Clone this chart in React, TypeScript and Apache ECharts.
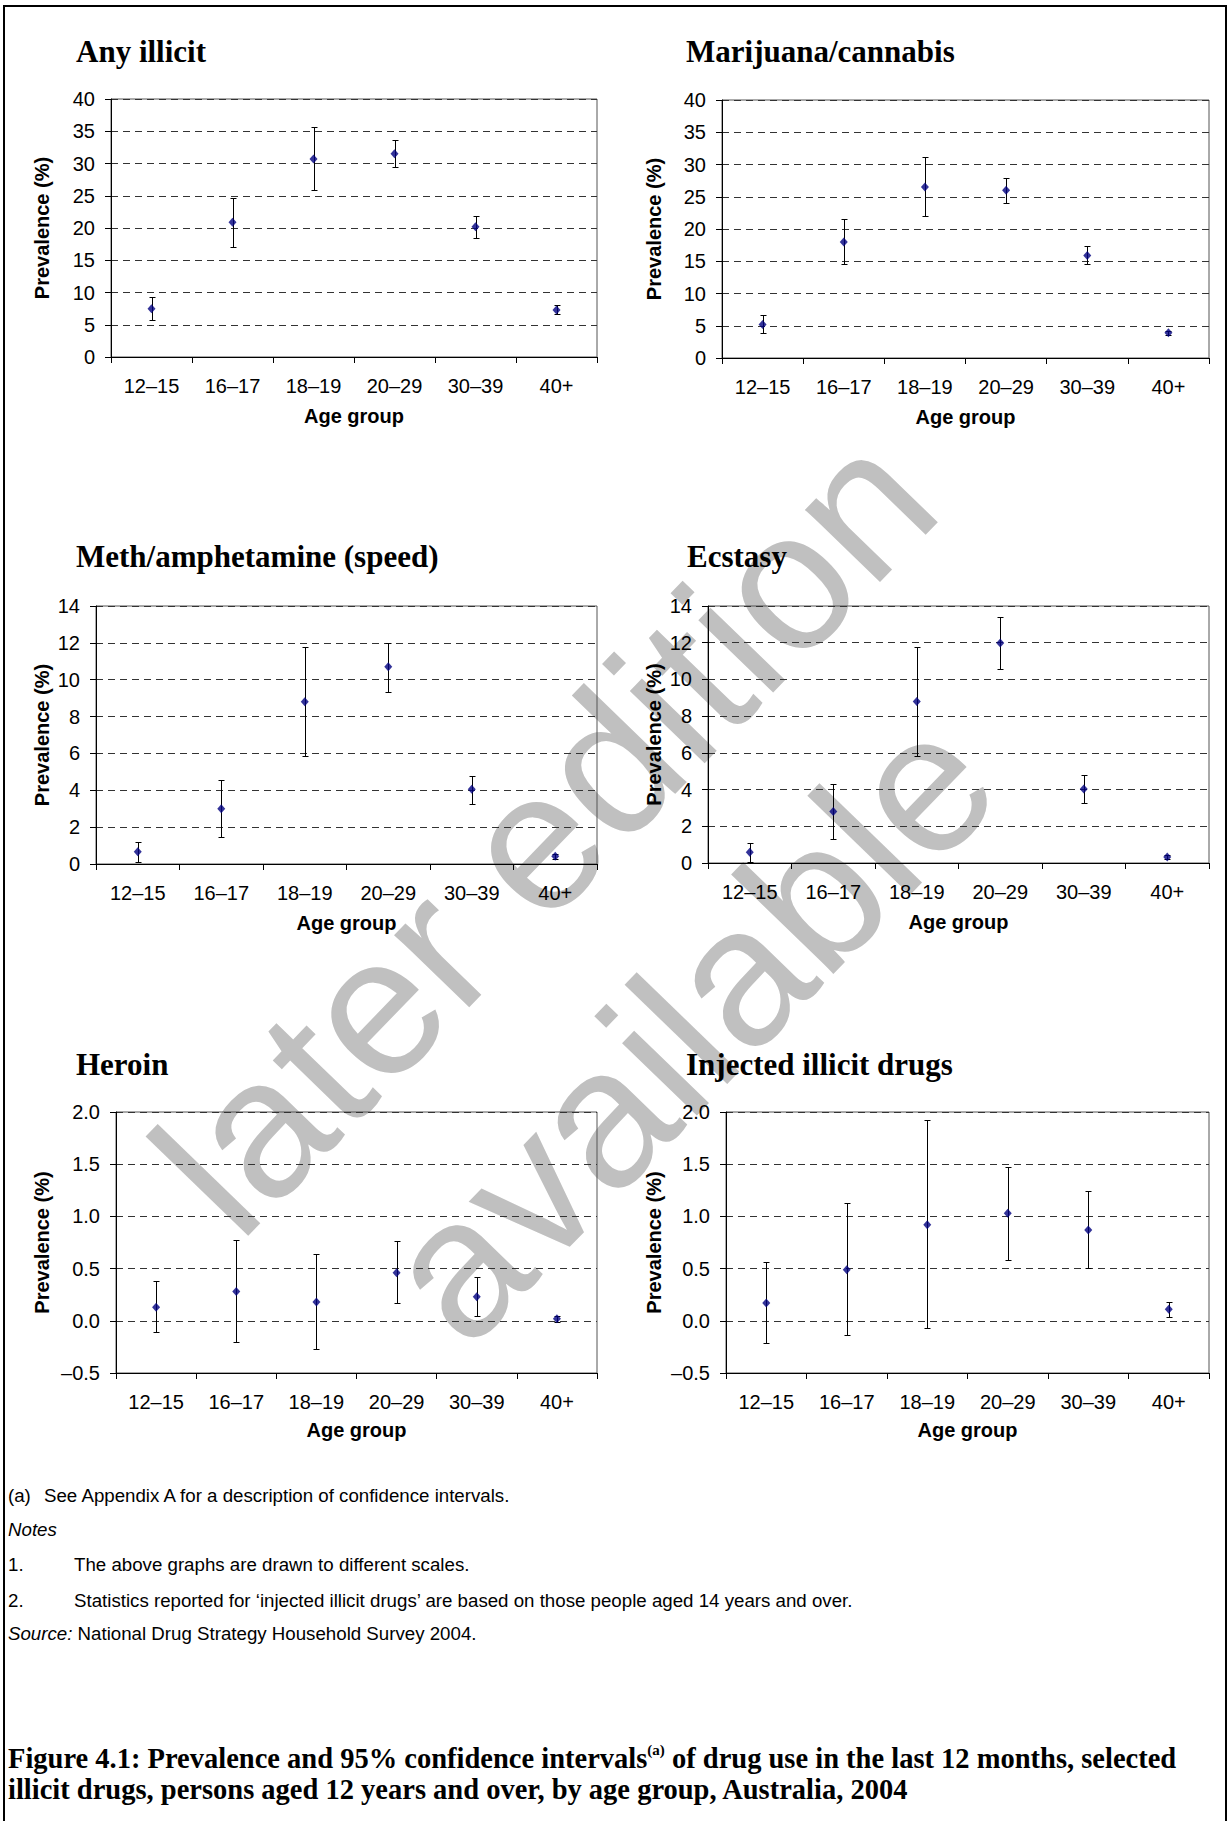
import React, { useEffect, useRef } from 'react';
import * as echarts from 'echarts';

// ---------- data ----------
const CATEGORIES = ['12–15', '16–17', '18–19', '20–29', '30–39', '40+'];

const ANY_ILLICIT_EST = [7.5, 20.9, 30.7, 31.5, 20.2, 7.3];
const ANY_ILLICIT_LOW = [5.8, 17.1, 25.9, 29.4, 18.5, 6.7];
const ANY_ILLICIT_HIGH = [9.3, 24.6, 35.6, 33.6, 21.8, 8.0];

const CANNABIS_EST = [5.2, 18.0, 26.5, 26.0, 15.9, 3.9];
const CANNABIS_LOW = [3.8, 14.6, 22.0, 24.1, 14.6, 3.6];
const CANNABIS_HIGH = [6.7, 21.5, 31.2, 27.9, 17.4, 4.2];

const METH_EST = [0.67, 3.0, 8.8, 10.7, 4.05, 0.42];
const METH_LOW = [0.11, 1.45, 5.86, 9.33, 3.25, 0.29];
const METH_HIGH = [1.21, 4.57, 11.8, 12.0, 4.79, 0.54];

const ECSTASY_EST = [0.58, 2.81, 8.8, 11.99, 4.03, 0.33];
const ECSTASY_LOW = [0.04, 1.31, 5.84, 10.55, 3.26, 0.24];
const ECSTASY_HIGH = [1.07, 4.33, 11.77, 13.4, 4.77, 0.42];

const HEROIN_EST = [0.13, 0.28, 0.18, 0.46, 0.23, 0.02];
const HEROIN_LOW = [-0.11, -0.2, -0.27, 0.17, 0.05, -0.01];
const HEROIN_HIGH = [0.38, 0.77, 0.64, 0.76, 0.42, 0.05];

const INJECTED_EST = [0.17, 0.49, 0.92, 1.03, 0.87, 0.11];
const INJECTED_LOW = [-0.21, -0.14, -0.07, 0.58, 0.51, 0.04];
const INJECTED_HIGH = [0.56, 1.13, 1.92, 1.47, 1.24, 0.18];

const SCALE_40 = { min: 0, max: 40, interval: 5, decimals: 0 };
const SCALE_14 = { min: 0, max: 14, interval: 2, decimals: 0 };
const SCALE_2 = { min: -0.5, max: 2, interval: 0.5, decimals: 1 };

const PANELS = [
  { title: 'Any illicit', est: ANY_ILLICIT_EST, low: ANY_ILLICIT_LOW, high: ANY_ILLICIT_HIGH, scale: SCALE_40 },
  { title: 'Marijuana/cannabis', est: CANNABIS_EST, low: CANNABIS_LOW, high: CANNABIS_HIGH, scale: SCALE_40 },
  { title: 'Meth/amphetamine (speed)', est: METH_EST, low: METH_LOW, high: METH_HIGH, scale: SCALE_14 },
  { title: 'Ecstasy', est: ECSTASY_EST, low: ECSTASY_LOW, high: ECSTASY_HIGH, scale: SCALE_14 },
  { title: 'Heroin', est: HEROIN_EST, low: HEROIN_LOW, high: HEROIN_HIGH, scale: SCALE_2 },
  { title: 'Injected illicit drugs', est: INJECTED_EST, low: INJECTED_LOW, high: INJECTED_HIGH, scale: SCALE_2 },
];

const Y_NAME = 'Prevalence (%)';
const X_NAME = 'Age group';

const FOOTNOTES = [
  { label: '(a)', text: 'See Appendix A for a description of confidence intervals.' },
  { label: '{i|Notes}', text: '' },
  { label: '1.', text: 'The above graphs are drawn to different scales.' },
  { label: '2.', text: 'Statistics reported for ‘injected illicit drugs’ are based on those people aged 14 years and over.' },
  { label: '{i|Source:} National Drug Strategy Household Survey 2004.', text: '' },
];

const CAPTION_1A = 'Figure 4.1: Prevalence and 95% confidence intervals';
const CAPTION_SUP = '(a)';
const CAPTION_1B = ' of drug use in the last 12 months, selected';
const CAPTION_2 = 'illicit drugs, persons aged 12 years and over, by age group, Australia, 2004';

const WATERMARK_1 = 'later edition';
const WATERMARK_2 = 'available';

// ---------- layout ----------
const LAYOUT = [
  { left: 111, top: 99, width: 486, height: 258, yGap: 59, xGap: 49, titleX: 76, titleY: 51.5 },
  { left: 722, top: 100, width: 487, height: 258, yGap: 58, xGap: 49, titleX: 686, titleY: 51.5 },
  { left: 96, top: 606, width: 501, height: 258, yGap: 44, xGap: 49, titleX: 76, titleY: 556.5 },
  { left: 708, top: 606, width: 501, height: 257, yGap: 44, xGap: 49, titleX: 687, titleY: 556.5 },
  { left: 116, top: 1112, width: 481, height: 261, yGap: 64, xGap: 47, titleX: 76, titleY: 1064.5 },
  { left: 726, top: 1112, width: 483, height: 261, yGap: 62, xGap: 47, titleX: 686, titleY: 1064.5 },
];

const SANS = '"Liberation Sans", Arial, Helvetica, sans-serif';
const SERIF = '"Liberation Serif", "Times New Roman", serif';
const FOOT_Y = [1495, 1529, 1564, 1600, 1633];
const FOOT_SIZE = 18.7;

function fmt(decimals: number) {
  return (v: number) => {
    const s = decimals ? Math.abs(v).toFixed(decimals) : String(Math.abs(v));
    return v < 0 ? '–' + s : s;
  };
}

function buildOption() {
  const grid: any[] = [];
  const xAxis: any[] = [];
  const yAxis: any[] = [];
  const series: any[] = [];
  const elements: any[] = [];

  PANELS.forEach((p, i) => {
    const L = LAYOUT[i];
    grid.push({
      left: L.left, top: L.top, width: L.width, height: L.height,
      show: true, borderColor: '#555', borderWidth: 1, backgroundColor: 'transparent',
    });
    xAxis.push({
      type: 'category', gridIndex: i, data: CATEGORIES, boundaryGap: true,
      axisLine: { show: true, onZero: false, lineStyle: { color: '#000', width: 1 } },
      axisTick: { show: true, length: 6, lineStyle: { color: '#000' } },
      axisLabel: { color: '#000', fontSize: 20, fontFamily: SANS, margin: 19 },
      splitLine: { show: false },
      name: X_NAME, nameLocation: 'middle', nameGap: L.xGap,
      nameTextStyle: { color: '#000', fontSize: 20, fontWeight: 'bold', fontFamily: SANS },
    });
    yAxis.push({
      type: 'value', gridIndex: i,
      min: p.scale.min, max: p.scale.max, interval: p.scale.interval,
      axisLine: { show: true, lineStyle: { color: '#000', width: 1 } },
      axisTick: { show: true, length: 6, lineStyle: { color: '#000' } },
      axisLabel: { color: '#000', fontSize: 20, fontFamily: SANS, margin: 16, formatter: fmt(p.scale.decimals) },
      splitLine: { show: true, lineStyle: { color: '#333', width: 1, type: [7, 5] } },
      name: Y_NAME, nameLocation: 'middle', nameGap: L.yGap, nameRotate: 90,
      nameTextStyle: { color: '#000', fontSize: 20, fontWeight: 'bold', fontFamily: SANS },
    });
    series.push({
      type: 'custom', xAxisIndex: i, yAxisIndex: i, z: 3,
      data: CATEGORIES.map((_, j) => [j, p.low[j], p.high[j]]),
      encode: { x: 0, y: [1, 2] },
      renderItem: (params: any, api: any) => {
        const xv = api.value(0);
        const lo = api.coord([xv, api.value(1)]);
        const hi = api.coord([xv, api.value(2)]);
        const cx = Math.round(lo[0]) + 0.5;
        const y1 = Math.round(hi[1]) + 0.5;
        const y2 = Math.round(lo[1]) + 0.5;
        const w = 3;
        const style = { stroke: '#000', lineWidth: 1 };
        return {
          type: 'group',
          children: [
            { type: 'line', shape: { x1: cx, y1, x2: cx, y2 }, style },
            { type: 'line', shape: { x1: cx - w, y1, x2: cx + w, y2: y1 }, style },
            { type: 'line', shape: { x1: cx - w, y1: y2, x2: cx + w, y2 }, style },
          ],
        };
      },
    });
    series.push({
      type: 'scatter', xAxisIndex: i, yAxisIndex: i, z: 4,
      symbol: 'diamond', symbolSize: [8, 9],
      itemStyle: { color: '#00007f' },
      data: p.est,
    });
    elements.push({
      type: 'text', x: L.titleX, y: L.titleY,
      style: {
        text: p.title, fill: '#000', font: 'bold 31px ' + SERIF,
        textAlign: 'left', textVerticalAlign: 'middle', align: 'left', verticalAlign: 'middle',
      },
    });
  });

  // watermark
  const wmFont = '197px ' + SANS;
  const rot = (46 * Math.PI) / 180;
  elements.push({
    type: 'text', x: 190, y: 1198, rotation: rot, z: -1, silent: true,
    style: { text: WATERMARK_1, fill: '#c0c0c0', font: wmFont, textAlign: 'left', textVerticalAlign: 'middle', align: 'left', verticalAlign: 'middle' },
  });
  elements.push({
    type: 'text', x: 418, y: 1306, rotation: rot, z: -1, silent: true,
    style: { text: WATERMARK_2, fill: '#c0c0c0', font: wmFont, textAlign: 'left', textVerticalAlign: 'middle', align: 'left', verticalAlign: 'middle' },
  });

  // footnotes
  const footRich = { i: { fontStyle: 'italic', fontSize: FOOT_SIZE, fontFamily: SANS, fill: '#000', color: '#000' } };
  FOOTNOTES.forEach((f, k) => {
    elements.push({
      type: 'text', x: 8, y: FOOT_Y[k],
      style: { text: f.label, fill: '#000', fontSize: FOOT_SIZE, fontFamily: SANS, rich: footRich, textVerticalAlign: 'middle', verticalAlign: 'middle' },
    });
    if (f.text) {
      elements.push({
        type: 'text', x: k === 0 ? 44 : 74, y: FOOT_Y[k],
        style: { text: f.text, fill: '#000', fontSize: FOOT_SIZE, fontFamily: SANS, textVerticalAlign: 'middle', verticalAlign: 'middle' },
      });
    }
  });

  // caption
  const capRich = {
    b: { fontSize: 28.5, fontWeight: 'bold', fontFamily: SERIF, lineHeight: 32, fill: '#000', color: '#000' },
    s: { fontSize: 15, fontWeight: 'bold', fontFamily: SERIF, lineHeight: 18, verticalAlign: 'top', fill: '#000', color: '#000' },
  };
  elements.push({
    type: 'text', x: 8, y: 1758,
    style: {
      text: '{b|' + CAPTION_1A + '}{s|' + CAPTION_SUP + '}{b|' + CAPTION_1B + '}',
      rich: capRich, fill: '#000', textVerticalAlign: 'middle', verticalAlign: 'middle',
    },
  });
  elements.push({
    type: 'text', x: 8, y: 1789,
    style: { text: '{b|' + CAPTION_2 + '}', rich: capRich, fill: '#000', textVerticalAlign: 'middle', verticalAlign: 'middle' },
  });

  // page frame
  elements.push({
    type: 'rect', shape: { x: 4, y: 6, width: 1222, height: 1830 }, silent: true, z: 10,
    style: { fill: 'none', stroke: '#000', lineWidth: 2 },
  });

  return {
    animation: false,
    backgroundColor: '#fff',
    grid, xAxis, yAxis, series,
    graphic: { elements },
  };
}

export default function App() {
  const ref = useRef<HTMLDivElement>(null);
  useEffect(() => {
    document.body.style.margin = '0';
    const chart = echarts.init(ref.current as HTMLDivElement, null, { renderer: 'svg' });
    chart.setOption(buildOption() as any);
    return () => chart.dispose();
  }, []);
  return <div ref={ref} style={{ width: 1228, height: 1821, background: '#fff' }} />;
}
